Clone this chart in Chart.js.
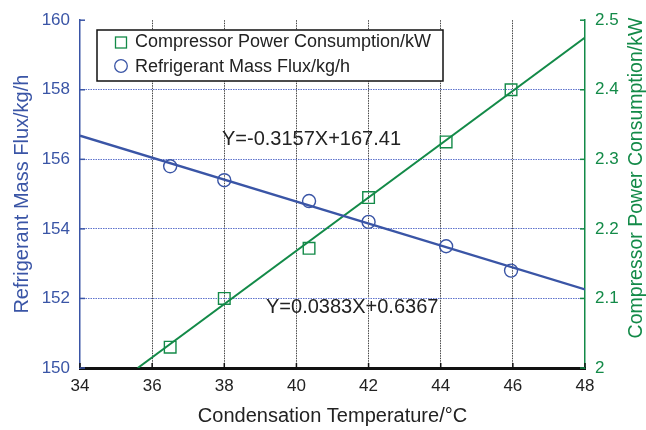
<!DOCTYPE html>
<html>
<head>
<meta charset="utf-8">
<script src="https://cdn.jsdelivr.net/npm/chart.js@4/dist/chart.umd.min.js"></script>
<style>
  html, body { margin: 0; padding: 0; background: #fff; }
  #wrap { width: 646px; height: 430px; }
</style>
</head>
<body>
<div id="wrap"><canvas id="chart" width="646" height="430"></canvas></div>
<script>
// data
const temps = [36.5, 38, 40.35, 42, 44.15, 45.95];
const massFlux = [155.8, 155.4, 154.8, 154.2, 153.5, 152.8];
const power = [2.03, 2.10, 2.172, 2.245, 2.325, 2.40];

// fitted lines (end points)
const fluxFitX = [34, 48];
const fluxFitY = [156.68, 152.26];
const powerFitX = [35.6, 48];
const powerFitY = [2.0, 2.475];

const xTicks = [34, 36, 38, 40, 42, 44, 46, 48];
const fluxTicks = [150, 152, 154, 156, 158, 160];
const powerTicks = [2, 2.1, 2.2, 2.3, 2.4, 2.5];

const BLUE = '#3a55a6';
const GREEN = '#138a48';
const FONT = "'Liberation Sans', Arial, Helvetica, sans-serif";

function pts(xs, ys) {
    return xs.map((x, i) => ({x: x, y: ys[i]}));
}

// legend box, equation labels, inward ticks and the right title (reads bottom to top)
const extras = {
    id: 'extras',
    beforeDatasetsDraw(chart) {
        const ctx = chart.ctx;
        const a = chart.chartArea;
        const sx = chart.scales.x, sy = chart.scales.y, s2 = chart.scales.y2;
        ctx.save();
        ctx.lineWidth = 1.5;
        ctx.strokeStyle = '#111';
        xTicks.forEach(v => {
            const px = sx.getPixelForValue(v);
            ctx.beginPath(); ctx.moveTo(px, a.bottom); ctx.lineTo(px, a.bottom - 5); ctx.stroke();
        });
        ctx.strokeStyle = BLUE;
        fluxTicks.forEach(v => {
            const py = sy.getPixelForValue(v);
            ctx.beginPath(); ctx.moveTo(a.left, py); ctx.lineTo(a.left + 5, py); ctx.stroke();
        });
        ctx.strokeStyle = GREEN;
        powerTicks.forEach(v => {
            const py = s2.getPixelForValue(v);
            ctx.beginPath(); ctx.moveTo(a.right, py); ctx.lineTo(a.right - 5, py); ctx.stroke();
        });
        ctx.restore();
    },
    afterDatasetsDraw(chart) {
        const ctx = chart.ctx;
        ctx.save();
        // legend
        ctx.fillStyle = '#fff';
        ctx.fillRect(97, 30, 346, 51);
        ctx.strokeStyle = '#111';
        ctx.lineWidth = 1.5;
        ctx.strokeRect(97, 30, 346, 51);
        ctx.lineWidth = 1.3;
        ctx.strokeStyle = GREEN;
        ctx.strokeRect(115.5, 37, 11, 11);
        ctx.strokeStyle = BLUE;
        ctx.beginPath();
        ctx.arc(121, 66, 6.3, 0, Math.PI * 2);
        ctx.stroke();
        ctx.fillStyle = '#222';
        ctx.font = '18px ' + FONT;
        ctx.textBaseline = 'middle';
        ctx.fillText('Compressor Power Consumption/kW', 135, 42);
        ctx.fillText('Refrigerant Mass Flux/kg/h', 135, 67);
        // equations
        ctx.font = '20px ' + FONT;
        ctx.fillText('Y=-0.3157X+167.41', 222, 139);
        ctx.fillText('Y=0.0383X+0.6367', 266, 307);
        ctx.restore();
    },
    afterDraw(chart) {
        const ctx = chart.ctx;
        ctx.save();
        ctx.translate(637, 178);
        ctx.rotate(-Math.PI / 2);
        ctx.fillStyle = GREEN;
        ctx.font = '19.5px ' + FONT;
        ctx.textAlign = 'center';
        ctx.textBaseline = 'middle';
        ctx.fillText('Compressor Power Consumption/kW', 0, 0);
        ctx.restore();
    }
};

new Chart(document.getElementById('chart'), {
    type: 'scatter',
    data: {
        datasets: [
            {
                label: 'Compressor Power Consumption/kW',
                data: pts(temps, power),
                yAxisID: 'y2',
                pointStyle: 'rect',
                pointRadius: 8.2,
                borderColor: GREEN,
                backgroundColor: 'rgba(0,0,0,0)',
                borderWidth: 1.4
            },
            {
                label: 'Refrigerant Mass Flux/kg/h',
                data: pts(temps, massFlux),
                yAxisID: 'y',
                pointStyle: 'circle',
                pointRadius: 6.5,
                borderColor: BLUE,
                backgroundColor: 'rgba(0,0,0,0)',
                borderWidth: 1.4
            },
            {
                label: 'flux fit',
                data: pts(fluxFitX, fluxFitY),
                yAxisID: 'y',
                showLine: true,
                pointRadius: 0,
                borderColor: BLUE,
                borderWidth: 2.4
            },
            {
                label: 'power fit',
                data: pts(powerFitX, powerFitY),
                yAxisID: 'y2',
                showLine: true,
                pointRadius: 0,
                borderColor: GREEN,
                borderWidth: 2
            }
        ]
    },
    options: {
        responsive: false,
        animation: false,
        layout: { padding: { top: 17, left: 0, right: 0, bottom: 0 } },
        plugins: {
            legend: { display: false },
            tooltip: { enabled: false }
        },
        scales: {
            x: {
                type: 'linear',
                min: 34,
                max: 48,
                afterBuildTicks: s => { s.ticks = xTicks.map(v => ({value: v})); },
                afterFit: s => { s.height = 62; },
                ticks: { color: '#222', font: { family: FONT, size: 17 }, padding: 8 },
                grid: {
                    drawTicks: false,
                    color: c => (c.tick && (c.tick.value === 34 || c.tick.value === 48)) ? 'rgba(0,0,0,0)' : '#444',
                    lineWidth: 1
                },
                border: { display: true, color: '#111', width: 3, dash: [1.5, 1] },
                title: {
                    display: true,
                    text: 'Condensation Temperature/°C',
                    color: '#222',
                    font: { family: FONT, size: 20 },
                    padding: { top: 0, bottom: 2 }
                }
            },
            y: {
                position: 'left',
                min: 150,
                max: 160,
                afterBuildTicks: s => { s.ticks = fluxTicks.map(v => ({value: v})); },
                afterFit: s => { s.width = 80; },
                ticks: { color: BLUE, font: { family: FONT, size: 17 }, padding: 10 },
                grid: {
                    drawTicks: false,
                    color: c => (c.tick && (c.tick.value === 150 || c.tick.value === 160)) ? 'rgba(0,0,0,0)' : '#5d72cc',
                    lineWidth: 1
                },
                border: { display: true, color: BLUE, width: 1.5, dash: [1.5, 1] },
                title: {
                    display: true,
                    text: 'Refrigerant Mass Flux/kg/h',
                    color: BLUE,
                    font: { family: FONT, size: 20 },
                    padding: { top: 10, bottom: 0 }
                }
            },
            y2: {
                position: 'right',
                min: 2,
                max: 2.5,
                afterBuildTicks: s => { s.ticks = powerTicks.map(v => ({value: v})); },
                afterFit: s => { s.width = 61; },
                ticks: {
                    color: GREEN,
                    font: { family: FONT, size: 17 },
                    padding: 10,
                    callback: v => String(v)
                },
                grid: { display: false, drawTicks: false },
                border: { display: true, color: GREEN, width: 1.5 },
                title: { display: false }
            }
        }
    },
    plugins: [extras]
});
</script>
</body>
</html>
